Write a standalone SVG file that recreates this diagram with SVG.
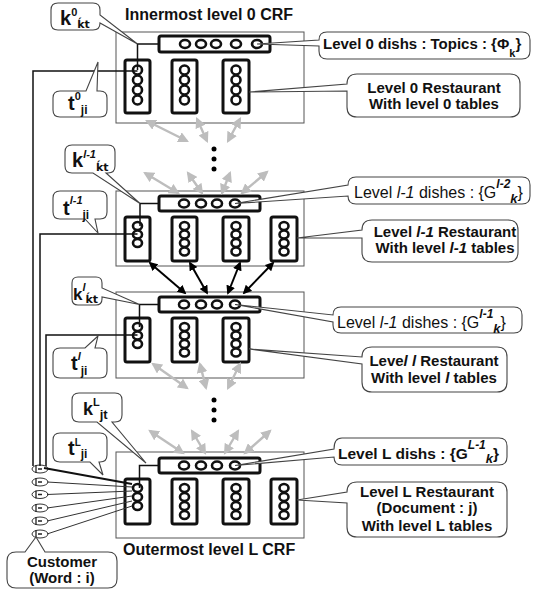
<svg xmlns="http://www.w3.org/2000/svg" width="535" height="592" viewBox="0 0 535 592">
<defs>
<marker id="ag" viewBox="0 0 10 10" refX="8" refY="5" markerWidth="4.5" markerHeight="4.5" orient="auto-start-reverse"><path d="M0,0 L10,5 L0,10 Z" fill="#bdbdbd"/></marker>
<marker id="ab" viewBox="0 0 10 10" refX="8" refY="5" markerWidth="4.5" markerHeight="4.5" orient="auto-start-reverse"><path d="M0,0 L10,5 L0,10 Z" fill="#000"/></marker>
<style>
.crf{fill:none;stroke:#555;stroke-width:1}
.bar{fill:#fff;stroke:#111;stroke-width:3}
.tbl{fill:#fff;stroke:#111;stroke-width:3}
.seat{fill:#fff;stroke:#111;stroke-width:2.6}
.ln{fill:none;stroke:#111;stroke-width:1.5}
.ga{stroke:#bdbdbd;stroke-width:2.4;marker-start:url(#ag);marker-end:url(#ag)}
.ba{stroke:#000;stroke-width:2;marker-start:url(#ab);marker-end:url(#ab)}
.call{fill:#fff;stroke:#444;stroke-width:1.1}
.cust{fill:#fff;stroke:#333;stroke-width:1}
text{font-family:"Liberation Sans",Arial,sans-serif;fill:#111}
.ttl{font-size:16px;font-weight:bold}
.lb{font-size:15px;font-weight:bold}
.ln15{font-size:16px;font-weight:normal}
.big{font-size:20px;font-weight:bold}
.sup{font-size:11px;font-weight:bold}
.sub{font-size:12px;font-weight:bold}
.acc{font-family:"DejaVu Sans","Liberation Sans",sans-serif;font-size:11px;font-weight:bold}
.it{font-style:italic}
.c{text-anchor:middle}
</style>
</defs>
<rect width="535" height="592" fill="#fff"/>

<text class="ttl" x="125" y="20">Innermost level 0 CRF</text>
<text class="ttl" x="123" y="555">Outermost level L CRF</text>

<g id="crf0">
<rect class="crf" x="116" y="32" width="188" height="91"/>
<rect class="bar" x="159" y="36" width="111" height="16" rx="2"/>
<g class="seat"><ellipse cx="185" cy="44" rx="5" ry="4"/><ellipse cx="201" cy="44" rx="5" ry="4"/><ellipse cx="216" cy="44" rx="5" ry="4"/><ellipse cx="236" cy="44" rx="5" ry="4"/><ellipse cx="257" cy="44" rx="5" ry="4"/></g>
<rect class="tbl" x="125" y="60" width="25" height="53" rx="2"/>
<rect class="tbl" x="172" y="60" width="25" height="53" rx="2"/>
<rect class="tbl" x="223" y="60" width="26" height="53" rx="2"/>
<g class="seat">
<ellipse cx="137.5" cy="70" rx="4.5" ry="4.5"/><ellipse cx="137.5" cy="80" rx="4.5" ry="4.5"/><ellipse cx="137.5" cy="90" rx="4.5" ry="4.5"/><ellipse cx="137.5" cy="100" rx="4.5" ry="4.5"/>
<ellipse cx="184.5" cy="70" rx="4.5" ry="4.5"/><ellipse cx="184.5" cy="80" rx="4.5" ry="4.5"/><ellipse cx="184.5" cy="90" rx="4.5" ry="4.5"/><ellipse cx="184.5" cy="100" rx="4.5" ry="4.5"/>
<ellipse cx="236" cy="70" rx="4.5" ry="4.5"/><ellipse cx="236" cy="80" rx="4.5" ry="4.5"/><ellipse cx="236" cy="90" rx="4.5" ry="4.5"/><ellipse cx="236" cy="100" rx="4.5" ry="4.5"/>
</g>
</g>

<g id="crf-l-1">
<rect class="crf" x="116" y="191" width="188" height="75"/>
<rect class="bar" x="159" y="196" width="101" height="15" rx="2"/>
<g class="seat"><ellipse cx="184" cy="203.5" rx="5" ry="4"/><ellipse cx="201" cy="203.5" rx="5" ry="4"/><ellipse cx="217" cy="203.5" rx="5" ry="4"/><ellipse cx="235" cy="203.5" rx="5" ry="4"/></g>
<rect class="tbl" x="125" y="217" width="25" height="44" rx="2"/>
<rect class="tbl" x="172" y="217" width="25" height="44" rx="2"/>
<rect class="tbl" x="223" y="217" width="26" height="44" rx="2"/>
<rect class="tbl" x="271" y="217" width="26" height="44" rx="2"/>
<g class="seat">
<ellipse cx="137.5" cy="226" rx="4.5" ry="4"/><ellipse cx="137.5" cy="234.5" rx="4.5" ry="4"/><ellipse cx="137.5" cy="243" rx="4.5" ry="4"/>
<ellipse cx="184.5" cy="226" rx="4.5" ry="4"/><ellipse cx="184.5" cy="234.5" rx="4.5" ry="4"/><ellipse cx="184.5" cy="243" rx="4.5" ry="4"/><ellipse cx="184.5" cy="251.5" rx="4.5" ry="4"/>
<ellipse cx="236" cy="226" rx="4.5" ry="4"/><ellipse cx="236" cy="234.5" rx="4.5" ry="4"/><ellipse cx="236" cy="243" rx="4.5" ry="4"/><ellipse cx="236" cy="251.5" rx="4.5" ry="4"/>
<ellipse cx="284" cy="226" rx="4.5" ry="4"/><ellipse cx="284" cy="234.5" rx="4.5" ry="4"/><ellipse cx="284" cy="243" rx="4.5" ry="4"/><ellipse cx="284" cy="251.5" rx="4.5" ry="4"/>
</g>
</g>

<g id="crf-l">
<rect class="crf" x="116" y="292" width="188" height="86"/>
<rect class="bar" x="159" y="297" width="101" height="15" rx="2"/>
<g class="seat"><ellipse cx="184" cy="304.5" rx="5" ry="4"/><ellipse cx="201" cy="304.5" rx="5" ry="4"/><ellipse cx="217" cy="304.5" rx="5" ry="4"/><ellipse cx="235" cy="304.5" rx="5" ry="4"/></g>
<rect class="tbl" x="125" y="318" width="25" height="44" rx="2"/>
<rect class="tbl" x="172" y="318" width="25" height="44" rx="2"/>
<rect class="tbl" x="223" y="318" width="26" height="44" rx="2"/>
<g class="seat">
<ellipse cx="137.5" cy="327" rx="4.5" ry="4"/><ellipse cx="137.5" cy="335.5" rx="4.5" ry="4"/><ellipse cx="137.5" cy="344" rx="4.5" ry="4"/>
<ellipse cx="184.5" cy="327" rx="4.5" ry="4"/><ellipse cx="184.5" cy="335.5" rx="4.5" ry="4"/><ellipse cx="184.5" cy="344" rx="4.5" ry="4"/><ellipse cx="184.5" cy="352.5" rx="4.5" ry="4"/>
<ellipse cx="236" cy="327" rx="4.5" ry="4"/><ellipse cx="236" cy="335.5" rx="4.5" ry="4"/><ellipse cx="236" cy="344" rx="4.5" ry="4"/><ellipse cx="236" cy="352.5" rx="4.5" ry="4"/>
</g>
</g>

<g id="crf-L">
<rect class="crf" x="116" y="452" width="188" height="86"/>
<rect class="bar" x="159" y="458" width="101" height="15" rx="2"/>
<g class="seat"><ellipse cx="184" cy="465.5" rx="5" ry="4"/><ellipse cx="201" cy="465.5" rx="5" ry="4"/><ellipse cx="217" cy="465.5" rx="5" ry="4"/><ellipse cx="235" cy="465.5" rx="5" ry="4"/></g>
<rect class="tbl" x="125" y="479" width="25" height="45" rx="2"/>
<rect class="tbl" x="172" y="479" width="25" height="45" rx="2"/>
<rect class="tbl" x="223" y="479" width="26" height="45" rx="2"/>
<rect class="tbl" x="271" y="479" width="26" height="45" rx="2"/>
<g class="seat">
<ellipse cx="137.5" cy="488" rx="4.5" ry="4"/><ellipse cx="137.5" cy="497" rx="4.5" ry="4"/><ellipse cx="137.5" cy="506" rx="4.5" ry="4"/>
<ellipse cx="184.5" cy="488" rx="4.5" ry="4"/><ellipse cx="184.5" cy="497" rx="4.5" ry="4"/><ellipse cx="184.5" cy="506" rx="4.5" ry="4"/><ellipse cx="184.5" cy="515" rx="4.5" ry="4"/>
<ellipse cx="236" cy="488" rx="4.5" ry="4"/><ellipse cx="236" cy="497" rx="4.5" ry="4"/><ellipse cx="236" cy="506" rx="4.5" ry="4"/><ellipse cx="236" cy="515" rx="4.5" ry="4"/>
<ellipse cx="284" cy="488" rx="4.5" ry="4"/><ellipse cx="284" cy="497" rx="4.5" ry="4"/><ellipse cx="284" cy="506" rx="4.5" ry="4"/><ellipse cx="284" cy="515" rx="4.5" ry="4"/>
</g>
</g>

<g id="customers">
<g class="cust">
<ellipse cx="40" cy="469" rx="8" ry="4"/><ellipse cx="40" cy="482" rx="8" ry="4"/><ellipse cx="40" cy="494.5" rx="8" ry="4"/><ellipse cx="40" cy="508" rx="8" ry="4"/><ellipse cx="40" cy="521" rx="8" ry="4"/><ellipse cx="40" cy="534" rx="8" ry="4"/>
</g>
<path d="M36,465v8M36,478v8M36,490.5v8M36,504v8M36,517v8M36,530v8M38,469h4M38,482h4M38,494.5h4M38,508h4M38,521h4M38,534h4" stroke="#222" stroke-width="1.3" fill="none"/>
</g>

<g id="connectors">
<polyline class="ln" points="137.5,70 137.5,44 159,44"/>
<polyline class="ln" points="140,226 140,203.5 159,203.5"/>
<polyline class="ln" points="139.5,327 139.5,304.5 159,304.5"/>
<polyline class="ln" points="139.5,488 139.5,465.5 159,465.5"/>
<polyline class="ln" points="137.5,71 33,71 33,466"/>
<polyline class="ln" points="137.5,234 40,234 40,466"/>
<polyline class="ln" points="137.5,335 46,335 46,466"/>
<line x1="44" y1="468" x2="132" y2="484" stroke="#111" stroke-width="2"/>
<g stroke="#333" stroke-width="1">
<line x1="47" y1="482" x2="132" y2="487"/>
<line x1="47" y1="494.5" x2="132" y2="491"/>
<line x1="47" y1="508" x2="132" y2="496"/>
<line x1="47" y1="521" x2="132" y2="501"/>
<line x1="47" y1="534" x2="132" y2="506"/>
</g>
<line class="ga" x1="147" y1="121" x2="187" y2="141"/>
<line class="ga" x1="197" y1="119" x2="207" y2="141"/>
<line class="ga" x1="240" y1="119" x2="228" y2="141"/>
<line class="ga" x1="145" y1="173" x2="178" y2="193"/>
<line class="ga" x1="188" y1="173" x2="202" y2="193"/>
<line class="ga" x1="230" y1="173" x2="222" y2="193"/>
<line class="ga" x1="267" y1="172" x2="242" y2="193"/>
<line class="ba" x1="150" y1="263" x2="185" y2="293"/>
<line class="ba" x1="190" y1="263" x2="207" y2="293"/>
<line class="ba" x1="240" y1="263" x2="228" y2="293"/>
<line class="ba" x1="273" y1="263" x2="244" y2="293"/>
<line class="ga" x1="153" y1="364" x2="187" y2="388"/>
<line class="ga" x1="200" y1="364" x2="206" y2="388"/>
<line class="ga" x1="240" y1="364" x2="228" y2="388"/>
<line class="ga" x1="150" y1="431" x2="183" y2="453"/>
<line class="ga" x1="192" y1="431" x2="205" y2="453"/>
<line class="ga" x1="238" y1="431" x2="225" y2="453"/>
<line class="ga" x1="270" y1="431" x2="245" y2="453"/>
<g fill="#000"><circle cx="214" cy="149" r="2.5"/><circle cx="214" cy="159" r="2.5"/><circle cx="214" cy="169" r="2.5"/><circle cx="214" cy="400" r="2.5"/><circle cx="214" cy="410" r="2.5"/><circle cx="214" cy="420" r="2.5"/></g>
</g>

<g id="lbl-k0">
<path class="call" d="M58,3 H93 Q100,3 100,10 V15 L137.5,44 L100,23 Q100,30 93,30 H58 Q51,30 51,23 V10 Q51,3 58,3 Z"/>
<text class="big" x="60" y="25">k<tspan class="sup" dy="-9">0</tspan><tspan class="acc" dy="12">ḱt</tspan></text>
</g>
<g id="lbl-t0">
<path class="call" d="M60,91 H86 L98,62 L97,91 H100 Q107,91 107,98 V110 Q107,117 100,117 H60 Q53,117 53,110 V98 Q53,91 60,91 Z"/>
<text class="big" x="68" y="110">t<tspan class="sup" dy="-10">0</tspan><tspan class="sub" dy="14">ji</tspan></text>
</g>
<g id="lbl-kl-1">
<path class="call" d="M72,145 H108 Q115,145 115,152 V166 Q115,173 108,173 H106 L140,203.5 L93,173 H72 Q65,173 65,166 V152 Q65,145 72,145 Z"/>
<text class="big" x="72" y="167">k<tspan class="sup it" dy="-9">l-1</tspan><tspan class="acc" dy="13">ḱt</tspan></text>
</g>
<g id="lbl-tl-1">
<path class="call" d="M60,191 H100 Q107,191 107,198 V212 Q107,219 100,219 H95 L98,233 L85,219 H60 Q53,219 53,212 V198 Q53,191 60,191 Z"/>
<text class="big" x="63" y="215">t<tspan class="sup it" dy="-11">l-1</tspan><tspan class="sub" dy="15">ji</tspan></text>
</g>
<g id="lbl-kl">
<path class="call" d="M78,277 H96 Q102,277 102,283 V288 L139.5,304.5 L102,297 V299 Q102,305 96,305 H78 Q72,305 72,299 V283 Q72,277 78,277 Z"/>
<text x="73" y="300" style="font-size:17px;font-weight:bold">k<tspan class="sup it" dy="-9">l</tspan><tspan class="acc" dy="12">ḱt</tspan></text>
</g>
<g id="lbl-tl">
<path class="call" d="M60,348 H85 L98,336 L95,348 H100 Q107,348 107,355 V371 Q107,378 100,378 H60 Q53,378 53,371 V355 Q53,348 60,348 Z"/>
<text class="big" x="71" y="370">t<tspan class="sup it" dy="-10">l</tspan><tspan class="sub" dy="15">ji</tspan></text>
</g>
<g id="lbl-kL">
<path class="call" d="M79,393 H115 Q122,393 122,400 V415 Q122,422 115,422 H112 L146,463 L97,422 H79 Q72,422 72,415 V400 Q72,393 79,393 Z"/>
<text x="83" y="415" style="font-size:18px;font-weight:bold">k<tspan class="sup" dy="-9">L</tspan><tspan style="font-size:13px" dy="13">jt</tspan></text>
</g>
<g id="lbl-tL">
<path class="call" d="M60,433 H100 Q107,433 107,440 V455 Q107,462 100,462 H99 L103,475 L90,462 H60 Q53,462 53,455 V440 Q53,433 60,433 Z"/>
<text class="big" x="68" y="455">t<tspan style="font-size:10px" dy="-9">L</tspan><tspan class="sub" dy="12">ji</tspan></text>
</g>
<g id="lbl-customer">
<path class="call" d="M16,552 H25 L36,537 L45,552 H108 Q117,552 117,561 V579 Q117,588 108,588 H16 Q7,588 7,579 V561 Q7,552 16,552 Z"/>
<text class="lb c" x="62" y="567">Customer</text>
<text class="lb c" x="62" y="583">(Word : i)</text>
</g>

<g id="lbl-dish0">
<path class="call" d="M327,32 H522 Q530,32 530,40 V51 Q530,59 522,59 H327 Q319,59 319,51 V46 L257,44 L319,40 Q319,32 327,32 Z"/>
<text class="lb" x="323" y="49">Level 0 dishs : Topics : {Φ<tspan style="font-size:11px" dy="8">k</tspan><tspan dy="-8">}</tspan></text>
</g>
<g id="lbl-rest0">
<path class="call" d="M357,74 H510 Q520,74 520,84 V107 Q520,117 510,117 H357 Q347,117 347,107 V91 L249,92 L347,84 Q347,74 357,74 Z"/>
<text class="lb c" x="434" y="93">Level 0 Restaurant</text>
<text class="lb c" x="434" y="109">With level 0 tables</text>
</g>
<g id="lbl-dishl-1">
<path class="call" d="M356,177 H522 Q530,177 530,185 V196 Q530,204 522,204 H356 Q348,204 348,196 L235,203.5 L348,185 Q348,177 356,177 Z"/>
<text class="ln15" x="354" y="198">Level <tspan class="it">l-1</tspan> dishes : {G<tspan class="it" style="font-size:12px;font-weight:bold" dy="-10">l-2</tspan><tspan class="it" style="font-size:13px;font-weight:bold" dy="15">k</tspan><tspan dy="-5">}</tspan></text>
</g>
<g id="lbl-restl-1">
<path class="call" d="M372,220 H508 Q518,220 518,230 V252 Q518,262 508,262 H372 Q362,262 362,252 V238 L297,238 L362,230 Q362,220 372,220 Z"/>
<text class="lb c" x="445" y="237">Level <tspan class="it">l-1</tspan> Restaurant</text>
<text class="lb c" x="445" y="253">With level <tspan class="it">l-1</tspan> tables</text>
</g>
<g id="lbl-dishl">
<path class="call" d="M341,307 H514 Q522,307 522,315 V325 Q522,333 514,333 H341 Q333,333 333,325 V322 L235,304.5 L333,315 Q333,307 341,307 Z"/>
<text class="ln15" x="337" y="328">Level <tspan class="it">l-1</tspan> dishes : {G<tspan class="it" style="font-size:12px;font-weight:bold" dy="-10">l-1</tspan><tspan class="it" style="font-size:13px;font-weight:bold" dy="15">k</tspan><tspan dy="-5">}</tspan></text>
</g>
<g id="lbl-restl">
<path class="call" d="M372,347 H497 Q507,347 507,357 V382 Q507,392 497,392 H372 Q362,392 362,382 V364 L249,349 L362,357 Q362,347 372,347 Z"/>
<text class="lb c" x="434" y="366">Leve<tspan class="it">l l</tspan> Restaurant</text>
<text class="lb c" x="434" y="383">With level <tspan class="it">l</tspan> tables</text>
</g>
<g id="lbl-dishL">
<path class="call" d="M342,438 H499 Q507,438 507,446 V457 Q507,465 499,465 H342 Q334,465 334,457 L235,465.5 L334,449 Q334,438 342,438 Z"/>
<text class="lb" x="338" y="459" style="font-size:15.5px">Level L dishs : {G<tspan class="it" style="font-size:12px" dy="-10">L-1</tspan><tspan class="it" style="font-size:13px" dy="14">k</tspan><tspan dy="-4">}</tspan></text>
</g>
<g id="lbl-restL">
<path class="call" d="M357,482 H497 Q507,482 507,492 V527 Q507,537 497,537 H357 Q347,537 347,527 V503 L297,500 L347,492 Q347,482 357,482 Z"/>
<text class="lb c" x="427" y="497">Level L Restaurant</text>
<text class="lb c" x="427" y="513">(Document : j)</text>
<text class="lb c" x="427" y="531">With level L tables</text>
</g>
</svg>
